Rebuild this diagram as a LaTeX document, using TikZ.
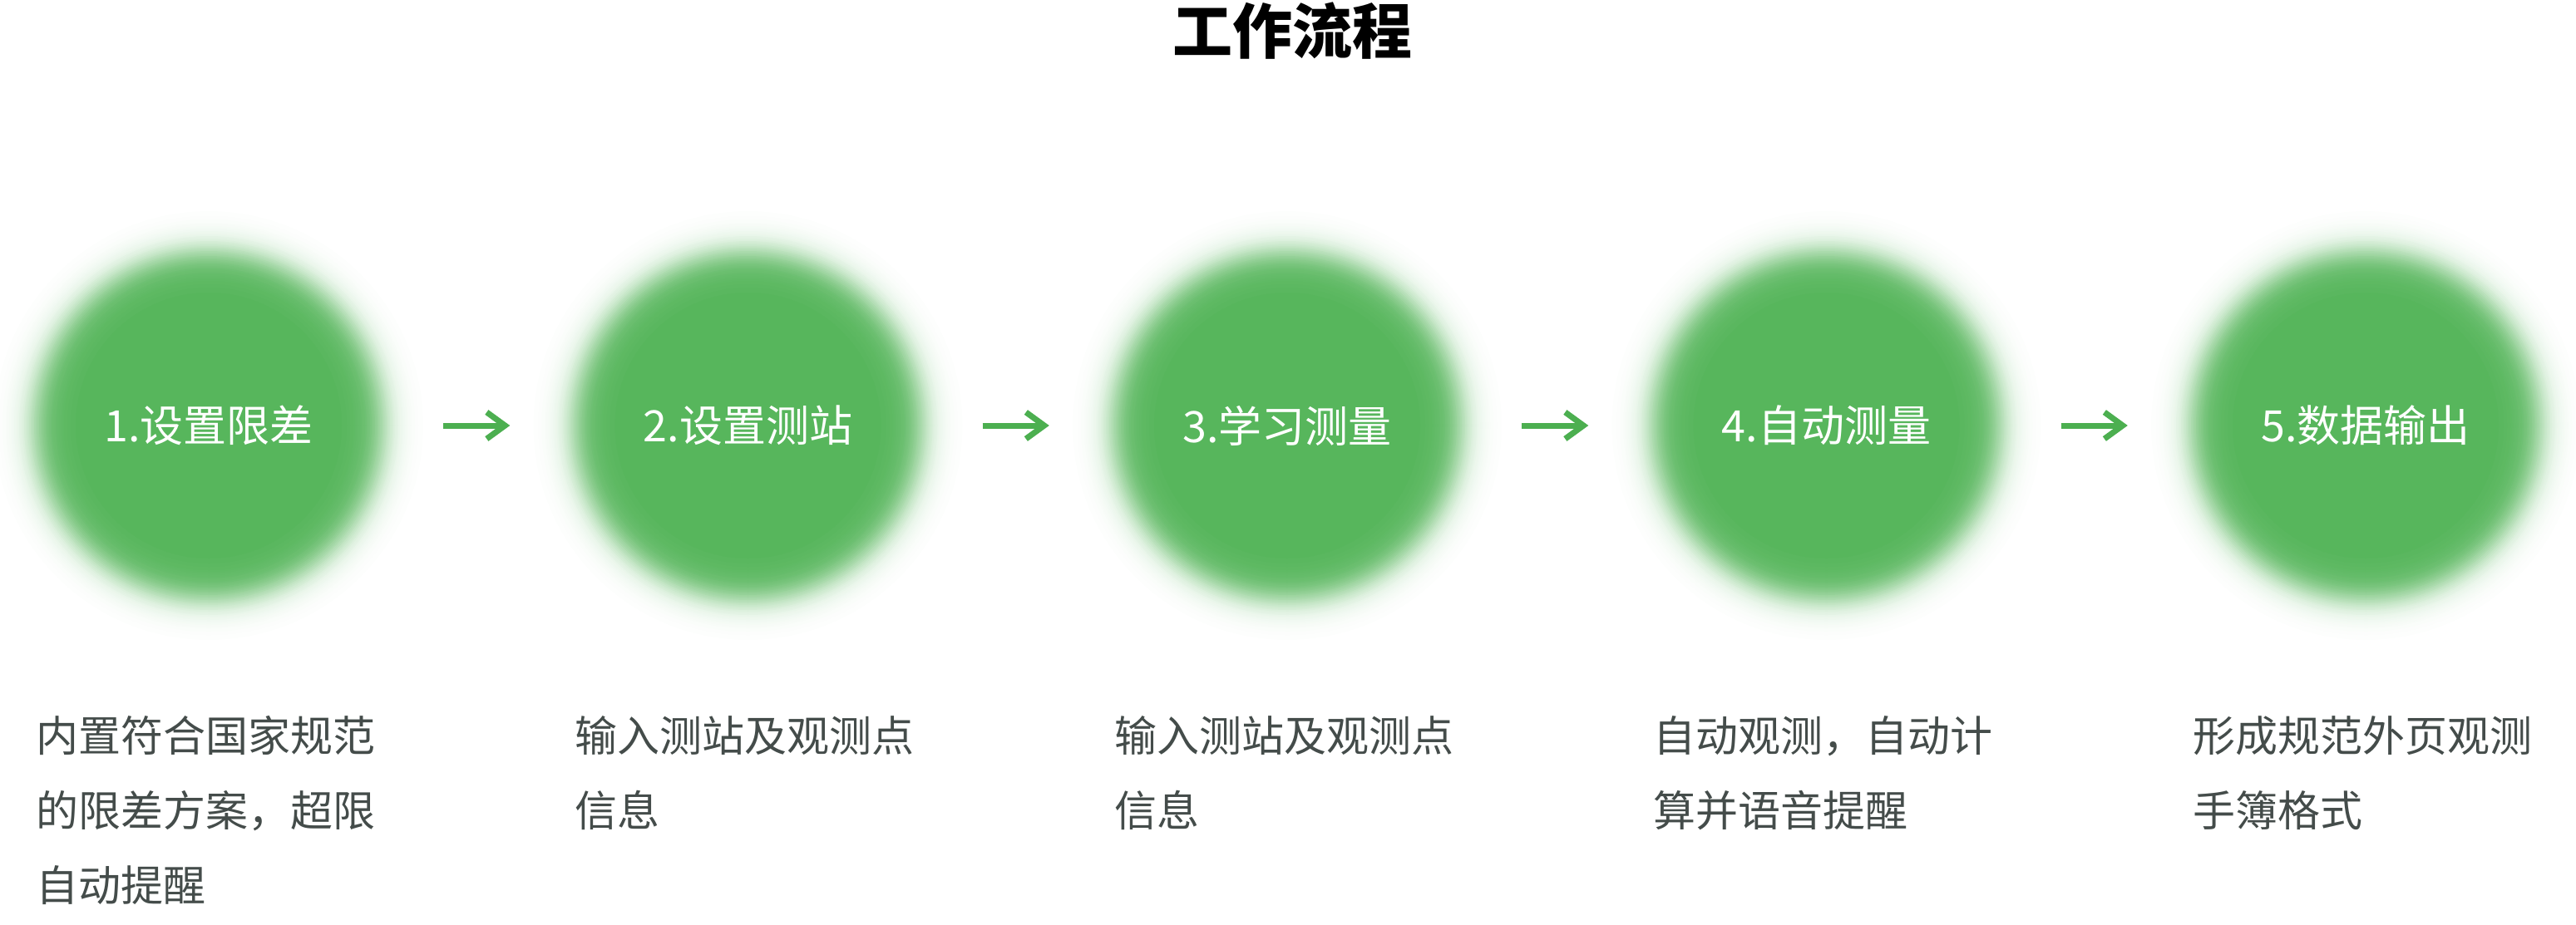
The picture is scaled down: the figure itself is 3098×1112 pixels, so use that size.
\documentclass[tikz,border=0pt]{standalone}
\usepackage{fontspec}
\setmainfont{Noto Sans CJK SC}
\usepackage{xcolor}
\usepackage{tikz}
\usetikzlibrary{arrows.meta, positioning}

\definecolor{stepgreen}{RGB}{87,182,92}
\definecolor{arrowgreen}{RGB}{76,175,80}
\definecolor{descgray}{RGB}{68,76,74}

\begin{document}
\begin{tikzpicture}[x=1pt, y=-1pt,
    stepnode/.style={circle, minimum size=480pt, inner sep=0pt, text=white,
        font=\fontsize{52}{60}\selectfont},
    desc/.style={anchor=north west, inner sep=0pt, align=left, text=descgray,
        font=\fontsize{51}{90}\selectfont},
    flow/.style={arrowgreen, line width=7pt,
        -{Straight Barb[length=22pt, width=32pt, line width=7pt]},
        shorten <=42pt, shorten >=46pt}]
    \useasboundingbox (0,0) rectangle (3098,1112);

    % Tiêu đề
    \node[font=\fontsize{72}{80}\selectfont\bfseries] (title) at (1554,37) {工作流程};

    % Vòng tròn mờ
    \foreach \cx in {251,899.5,1548,2196.5,2845} {
        \foreach \k in {0,...,48} {
            \pgfmathsetmacro\r{258-2*\k}
            \pgfmathtruncatemacro\p{100/(1+exp(-(210-\r)/11))}
            \fill[stepgreen!\p!white] (\cx,512) circle[radius=\r pt];
        }
        \fill[stepgreen] (\cx,512) circle[radius=160pt];
    }

    % Các bước
    \node[stepnode] (c1) at (251,512) {1.设置限差};
    \node[stepnode] (c2) at (899.5,512) {2.设置测站};
    \node[stepnode] (c3) at (1548,512) {3.学习测量};
    \node[stepnode] (c4) at (2196.5,512) {4.自动测量};
    \node[stepnode] (c5) at (2845,512) {5.数据输出};

    \foreach \a/\b in {c1/c2, c2/c3, c3/c4, c4/c5}
        \draw[flow] (\a) -- (\b);

    % Mô tả
    \node[desc] (d1) at (43,861) {内置符合国家规范\\的限差方案，超限\\自动提醒};
    \node[desc] (d2) at (691.5,861) {输入测站及观测点\\信息};
    \node[desc] (d3) at (1340,861) {输入测站及观测点\\信息};
    \node[desc] (d4) at (1988.5,861) {自动观测，自动计\\算并语音提醒};
    \node[desc] (d5) at (2637,861) {形成规范外页观测\\手簿格式};
\end{tikzpicture}
\end{document}
